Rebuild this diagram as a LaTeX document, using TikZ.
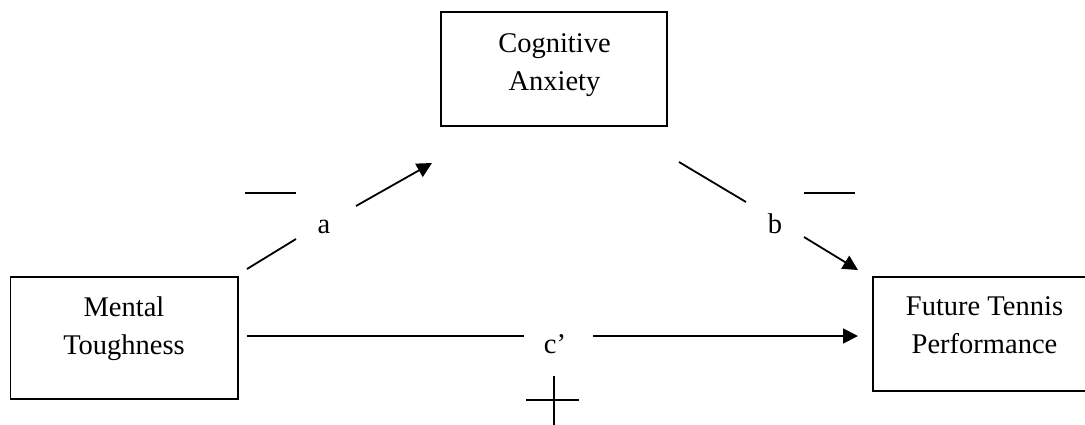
\documentclass[tikz,border=0pt]{standalone}
\usepackage{fontspec}
\setmainfont{Liberation Serif}
\usetikzlibrary{arrows.meta}
\tikzset{
  varbox/.style={draw, line width=1.2pt, inner sep=0pt},
  vartext/.style={anchor=base, align=center, inner sep=0pt,
    font=\fontsize{28.5}{38}\selectfont},
  pathline/.style={line width=1.8pt},
  patharrow/.style={pathline, -{Triangle[length=15pt,width=15pt]}},
  signline/.style={line width=1.8pt},
}
\begin{document}
\begin{tikzpicture}[x=1pt, y=-1pt]
  \useasboundingbox (0,0) rectangle (1085,424);
  % the three variables
  \node[varbox, minimum width=226pt, minimum height=114pt] (anx) at (554,69) {};
  \node[varbox, minimum width=227.5pt, minimum height=122pt] (mt) at (124.25,338) {};
  \node[varbox, minimum width=223pt, minimum height=114pt] (ftp) at (984.5,334) {};
  \node[vartext] (anxtext) at (554.5,90) {Cognitive\\Anxiety};
  \node[vartext] (mttext) at (124,354) {Mental\\Toughness};
  \node[vartext] (ftptext) at (984.5,353) {Future Tennis\\Performance};
  % path labels
  \node[vartext] (lbla) at (324,233) {a};
  \node[vartext] (lblb) at (775,233) {b};
  \node[vartext] (lblc) at (555,353) {c’};
  % path a
  \coordinate (a0) at (247,269);
  \coordinate (a1) at (296,239);
  \coordinate (a2) at (356,206);
  \coordinate (a3) at (432,163);
  \draw[pathline] (a0) -- (a1);
  \draw[patharrow] (a2) -- (a3);
  % path b
  \coordinate (b0) at (679,162);
  \coordinate (b1) at (746,202);
  \coordinate (b2) at (804,237);
  \coordinate (b3) at (858,270);
  \draw[pathline] (b0) -- (b1);
  \draw[patharrow] (b2) -- (b3);
  % path c'
  \coordinate (c0) at (247,336);
  \coordinate (c1) at (524,336);
  \coordinate (c2) at (593,336);
  \coordinate (c3) at (858,336);
  \draw[pathline] (c0) -- (c1);
  \draw[patharrow] (c2) -- (c3);
  % signs
  \draw[signline] (245,193) -- (296,193);
  \draw[signline] (804,193) -- (855,193);
  \draw[signline] (526,400) -- (579,400);
  \draw[signline] (554,376) -- (554,426);
\end{tikzpicture}
\end{document}
